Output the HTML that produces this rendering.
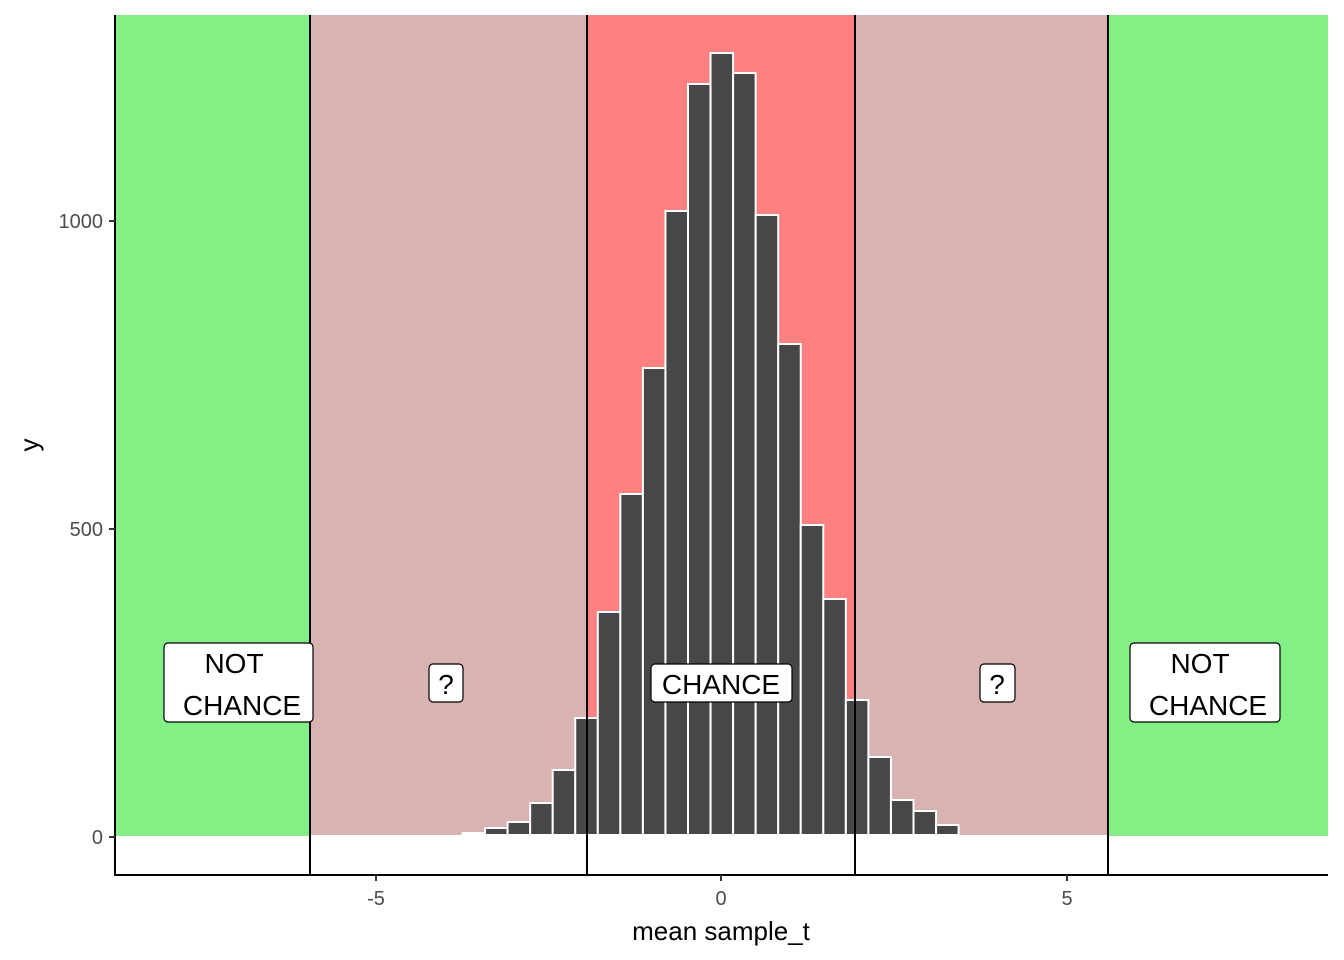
<!DOCTYPE html>
<html><head><style>body{margin:0;background:#fff}svg{display:block;font-family:"Liberation Sans",sans-serif}</style></head>
<body>
<svg width="1344" height="960" viewBox="0 0 1344 960">
<rect x="115" y="15" width="195" height="821" fill="#84EF84"/>
<rect x="310" y="15" width="277" height="820" fill="#D9B2B2"/>
<rect x="587" y="15" width="268" height="820" fill="#FF8080"/>
<rect x="855" y="15" width="253" height="820" fill="#D9B2B2"/>
<rect x="1108" y="15" width="220" height="821" fill="#84EF84"/>
<g fill="#474747" stroke="#fff" stroke-width="2">
<rect x="462.5" y="833" width="22.55" height="2"/>
<rect x="485.05" y="828" width="22.55" height="7"/>
<rect x="507.6" y="822" width="22.55" height="13"/>
<rect x="530.15" y="803" width="22.55" height="32"/>
<rect x="552.7" y="770" width="22.55" height="65"/>
<rect x="575.25" y="718" width="22.55" height="117"/>
<rect x="597.8" y="612" width="22.55" height="223"/>
<rect x="620.35" y="494" width="22.55" height="341"/>
<rect x="642.9" y="368" width="22.55" height="467"/>
<rect x="665.45" y="211" width="22.55" height="624"/>
<rect x="688.0" y="84" width="22.55" height="751"/>
<rect x="710.55" y="53" width="22.55" height="782"/>
<rect x="733.1" y="73" width="22.55" height="762"/>
<rect x="755.65" y="215" width="22.55" height="620"/>
<rect x="778.2" y="344" width="22.55" height="491"/>
<rect x="800.75" y="525" width="22.55" height="310"/>
<rect x="823.3" y="599" width="22.55" height="236"/>
<rect x="845.85" y="700" width="22.55" height="135"/>
<rect x="868.4" y="757" width="22.55" height="78"/>
<rect x="890.95" y="800" width="22.55" height="35"/>
<rect x="913.5" y="811" width="22.55" height="24"/>
<rect x="936.05" y="825" width="22.55" height="10"/>
</g>
<g stroke="#000" stroke-width="2">
<line x1="310" y1="15" x2="310" y2="875"/><line x1="587" y1="15" x2="587" y2="875"/>
<line x1="855" y1="15" x2="855" y2="875"/><line x1="1108" y1="15" x2="1108" y2="875"/>
</g>
<g fill="#fff" stroke="#000" stroke-width="1.2">
<rect x="164" y="643" width="149" height="79" rx="4"/>
<rect x="1130" y="643" width="150" height="79" rx="4"/>
<rect x="429" y="664" width="34" height="38" rx="4"/>
<rect x="980" y="664" width="35" height="38" rx="4"/>
<rect x="651" y="664" width="141" height="38" rx="4"/>
</g>
<g font-size="28" fill="#000" text-anchor="middle">
<text x="234" y="673">NOT</text><text x="242" y="715">CHANCE</text>
<text x="1200" y="673">NOT</text><text x="1208" y="715">CHANCE</text>
<text x="446" y="694">?</text><text x="997" y="694">?</text>
<text x="721" y="694">CHANCE</text>
</g>
<g stroke="#000" stroke-width="2" fill="none">
<line x1="115" y1="15" x2="115" y2="876"/><line x1="114" y1="875" x2="1328" y2="875"/>
</g>
<g stroke="#333" stroke-width="2">
<line x1="109" y1="221" x2="115" y2="221"/><line x1="109" y1="529" x2="115" y2="529"/><line x1="109" y1="837" x2="115" y2="837"/>
<line x1="376" y1="875" x2="376" y2="881"/><line x1="721" y1="875" x2="721" y2="881"/><line x1="1067" y1="875" x2="1067" y2="881"/>
</g>
<g font-size="20" fill="#4d4d4d">
<text x="103" y="228" text-anchor="end">1000</text>
<text x="103" y="536" text-anchor="end">500</text>
<text x="103" y="844" text-anchor="end">0</text>
<text x="376" y="905" text-anchor="middle">-5</text>
<text x="721" y="905" text-anchor="middle">0</text>
<text x="1067" y="905" text-anchor="middle">5</text>
</g>
<text x="721" y="940" font-size="26" text-anchor="middle">mean sample_t</text>
<text transform="translate(38,445) rotate(-90)" font-size="26" text-anchor="middle">y</text>
</svg>
</body></html>
